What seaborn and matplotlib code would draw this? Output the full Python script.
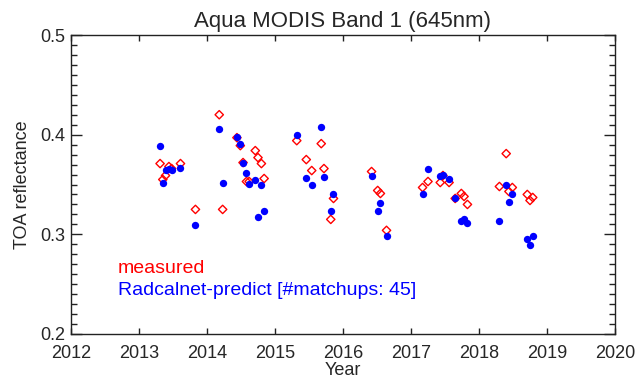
import numpy as np
import pandas as pd
import matplotlib
matplotlib.use("Agg")
import matplotlib.pyplot as plt
import seaborn as sns
from matplotlib.ticker import MultipleLocator

# Decimal year of each matchup
years = [2013.31, 2013.35, 2013.39, 2013.44, 2013.48, 2013.61, 2013.83,
         2014.18, 2014.23, 2014.44, 2014.49, 2014.53, 2014.58, 2014.62,
         2014.71, 2014.75, 2014.80, 2014.84,
         2015.32, 2015.46, 2015.54, 2015.68, 2015.72, 2015.82, 2015.86,
         2016.42, 2016.51, 2016.55, 2016.64,
         2017.17, 2017.25, 2017.43, 2017.47, 2017.56, 2017.65, 2017.74,
         2017.78, 2017.83,
         2018.30, 2018.40, 2018.44, 2018.49, 2018.71, 2018.75, 2018.79]

measured = [0.371, 0.355, 0.359, 0.368, 0.366, 0.371, 0.325,
            0.420, 0.325, 0.397, 0.389, 0.372, 0.353, 0.353,
            0.384, 0.377, 0.371, 0.356,
            0.394, 0.375, 0.364, 0.391, 0.366, 0.315, 0.336,
            0.363, 0.344, 0.341, 0.304,
            0.347, 0.353, 0.352, 0.359, 0.352, 0.336, 0.341,
            0.338, 0.330,
            0.348, 0.381, 0.343, 0.347, 0.340, 0.334, 0.337]

predicted = [0.389, 0.352, 0.365, 0.366, 0.365, 0.367, 0.309,
             0.406, 0.352, 0.398, 0.391, 0.372, 0.362, 0.351,
             0.355, 0.317, 0.349, 0.323,
             0.400, 0.357, 0.349, 0.408, 0.358, 0.323, 0.340,
             0.359, 0.323, 0.331, 0.298,
             0.340, 0.366, 0.359, 0.360, 0.356, 0.336, 0.313,
             0.315, 0.311,
             0.313, 0.350, 0.332, 0.340, 0.295, 0.289, 0.298]

title = "Aqua MODIS Band 1 (645nm)"
label_measured = "measured"
label_predicted = "Radcalnet-predict [#matchups: 45]"

df = pd.DataFrame({"year": years, "measured": measured, "predicted": predicted})

sns.set_style("ticks")
plt.rcParams['font.family'] = ['Liberation Sans', 'DejaVu Sans']

fig = plt.figure(figsize=(6.38, 3.81), dpi=100)
ax = fig.add_axes([71/638, 47/381, 544/638, 299/381])

sns.scatterplot(data=df, x="year", y="measured", ax=ax, marker="D", s=18,
                facecolor="none", edgecolor="red", linewidth=1.0, zorder=2)
sns.scatterplot(data=df, x="year", y="predicted", ax=ax, marker="o", s=28,
                color="blue", edgecolor="blue", linewidth=0, zorder=3)

ax.set_xlim(2012, 2020)
ax.set_ylim(0.2, 0.5)
ax.xaxis.set_major_locator(MultipleLocator(1))
ax.yaxis.set_major_locator(MultipleLocator(0.1))
ax.yaxis.set_minor_locator(MultipleLocator(0.01))
ax.set_xticks(range(2012, 2021))
ax.set_xticklabels([str(y) for y in range(2012, 2021)])
ax.set_yticklabels([f"{v:.1f}" for v in ax.get_yticks()])

for s in ax.spines.values():
    s.set_visible(True)
    s.set_linewidth(1.0)
    s.set_color("#222222")

ax.tick_params(axis="x", which="major", direction="in", length=4.5, width=1,
               top=True, bottom=True, labelsize=13, pad=8, color="#222222")
ax.tick_params(axis="y", which="major", direction="in", length=8, width=1,
               left=True, right=True, labelsize=13, pad=4, color="#222222")
ax.tick_params(axis="y", which="minor", direction="in", length=4.5, width=1,
               left=True, right=True, color="#222222")

ax.set_xlabel("Year", fontsize=13, labelpad=0)
ax.set_ylabel("TOA reflectance", fontsize=13, labelpad=7)
ax.set_title(title, fontsize=16, pad=6)

ax.text(0.0864, 0.2207, label_measured, transform=ax.transAxes, color="red",
        fontsize=14, va="center", ha="left")
ax.text(0.0864, 0.147, label_predicted, transform=ax.transAxes, color="blue",
        fontsize=14, va="center", ha="left")

fig.savefig("out.png", dpi=100)
